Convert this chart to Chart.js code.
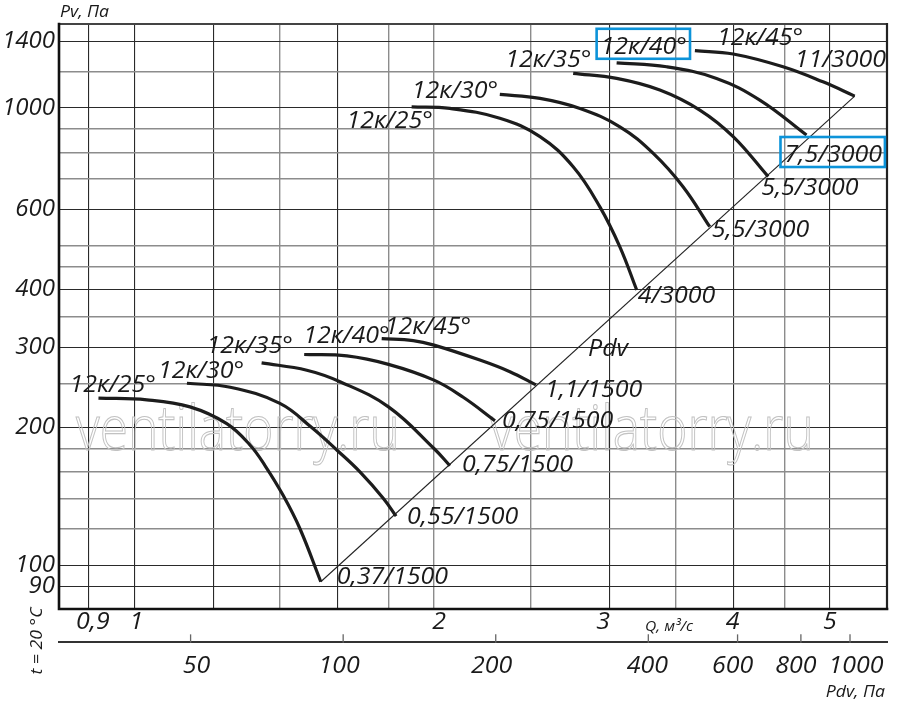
<!DOCTYPE html>
<html><head><meta charset="utf-8">
<script src="https://cdn.jsdelivr.net/npm/chart.js@4.4.1/dist/chart.umd.min.js"></script>
<style>html,body{margin:0;padding:0;background:#fff}#wrap{width:900px;height:709px}</style>
</head><body><div id="wrap"><canvas id="c" width="900" height="709"></canvas></div>
<script>
// ---------- DATA ----------
const qGrid = [0.9,1,1.2,1.4,1.6,1.8,2,2.5,3,3.5,4,4.5,5];
const qGridDark = [0.9,1,1.2,1.6,3,4,5];
const qTickLabels = [0.9,1,2,3,4,5];
const pGrid = [90,100,120,140,160,180,200,250,300,350,400,450,500,600,700,800,900,1000,1200,1400];
const pGridDark = [90,100,200,300,400,600,1000,1400];
const pTickLabels = [90,100,200,300,400,600,1000,1400];
const pdvTickLabels = [50,100,200,400,600,800,1000];

// 1500 rpm curves (Q m3/s, Pv Pa)
const q25L = [0.920,1.029,1.137,1.238,1.307,1.353,1.411,1.467,1.539];
const p25L = [232,230,222,204,183,165,142,120,92];
const q30L = [1.129,1.248,1.400,1.507,1.600,1.685,1.779,1.832];
const p30L = [250,245,226,200,178,160,140,128];
const q35L = [1.342,1.490,1.609,1.800,2.000,2.075];
const p35L = [277,267,252,222,180,165];
const q40L = [1.481,1.635,1.800,2.000,2.140,2.303];
const p40L = [289,287,275,254,233,207];
const q45L = [1.772,1.906,2.000,2.224,2.384,2.532];
const p45L = [313,310,303,281,265,248];
// 3000 rpm curves
const q25U = [1.899,2.075,2.329,2.556,2.760,2.936,3.075,3.197];
const p25U = [1006,998,950,866,744,608,497,400];
const q30U = [2.329,2.556,2.804,3.075,3.322,3.559,3.786];
const p30U = [1071,1050,998,910,796,673,550];
const q35U = [2.760,3.052,3.373,3.700,3.997,4.334];
const p35U = [1191,1161,1095,990,866,708];
const q40U = [3.052,3.426,3.846,4.251,4.736];
const p40U = [1256,1231,1161,1041,873];
const q45U = [3.658,3.997,4.486,4.920,5.295];
const p45U = [1335,1313,1231,1141,1062];
// dynamic pressure line
const qPdv = [1.539,5.295];
const pPdv = [92,1062];

const angleNames = ['12к/25°','12к/30°','12к/35°','12к/40°','12к/45°','12к/25°','12к/30°','12к/35°','12к/40°','12к/45°'];
const motorNames = ['0,37/1500','0,55/1500','0,75/1500','0,75/1500','1,1/1500','4/3000','5,5/3000','5,5/3000','7,5/3000','11/3000'];
const seriesQ = [q25L,q30L,q35L,q40L,q45L,q25U,q30U,q35U,q40U,q45U];
const seriesP = [p25L,p30L,p35L,p40L,p45L,p25U,p30U,p35U,p40U,p45U];

// ---------- LAYOUT (label offsets relative to curve start / end) ----------
const angleOff = [[-29,-6],[-29,-5],[-55,-10],[-1,-11],[3,-5],[-65,21],[-88,4],[-68,-6],[-16,-9],[22,-6]];
const motorOff = [[16,2],[11,8],[12,6],[7,7],[9,12],[1,13],[2,10],[-7,18],[-22,27],[-60,-29]];
const qLabelDx = [4,2,5,-6,-1,0];
const pdvLabelDx = [6,-4,-4,-1,-5,-5,6];
const boxedAngle = [8];
const boxedMotor = [8];
const FONT = '"Open Sans", "DejaVu Sans", sans-serif';
const SX = 1.04;

function txt(ctx, s, x, y, size, align, sx, color, style){
  ctx.save();
  ctx.font = (style||'italic') + ' ' + size + 'px ' + FONT;
  ctx.fillStyle = color || '#1a1a1a';
  ctx.textBaseline = 'alphabetic';
  const w = ctx.measureText(s).width * sx;
  const x0 = align === 'left' ? x : align === 'center' ? x - w/2 : x - w;
  ctx.translate(x0, y); ctx.scale(sx, 1); ctx.fillText(s, 0, 0);
  ctx.restore();
  return {left:x0, right:x0 + w};
}
const fmt = v => String(v).replace('.', ',');

const datasets = seriesQ.map((qs, i) => ({
  data: qs.map((q, j) => ({x:q, y:seriesP[i][j]})),
  borderColor:'#1c1c1c', borderWidth:3.2, pointRadius:0, fill:false,
  tension:0.4, borderCapStyle:'butt'
}));
datasets.push({
  data: qPdv.map((q, j) => ({x:q, y:pPdv[j]})),
  borderColor:'#222', borderWidth:1.1, pointRadius:0, fill:false, tension:0
});

const deco = {
  id:'deco',
  beforeDatasetsDraw(chart){
    const ctx = chart.ctx;
    ctx.save();
    ctx.strokeStyle = '#c2c2c2'; ctx.lineWidth = 1.1;
    ctx.font = '300 62px ' + FONT;
    [[76,450],[490,450]].forEach(([x,y]) => {
      ctx.save(); ctx.translate(x,y); ctx.scale(0.83,1); ctx.strokeText('ventilatorry.ru',0,0); ctx.restore();
    });
    ctx.restore();
  },
  afterDraw(chart){
    const ctx = chart.ctx, a = chart.chartArea, sc = chart.scales;
    const x = sc.x, x2 = sc.x2, y = sc.y;
    ctx.save();
    // frame
    ctx.lineCap = 'square';
    ctx.strokeStyle = '#444'; ctx.lineWidth = 2;
    ctx.beginPath(); ctx.moveTo(a.left, a.top); ctx.lineTo(a.right, a.top); ctx.stroke();
    ctx.strokeStyle = '#222'; ctx.lineWidth = 2.2;
    ctx.beginPath(); ctx.moveTo(a.right, a.top); ctx.lineTo(a.right, a.bottom); ctx.stroke();
    ctx.strokeStyle = '#111'; ctx.lineWidth = 2.6;
    ctx.beginPath(); ctx.moveTo(a.left, a.top); ctx.lineTo(a.left, a.bottom); ctx.lineTo(a.right, a.bottom); ctx.stroke();
    // second (Pdv) axis
    const yAx = 642;
    ctx.strokeStyle = '#333'; ctx.lineWidth = 2;
    ctx.beginPath(); ctx.moveTo(a.left, yAx); ctx.lineTo(a.right, yAx); ctx.stroke();
    ctx.strokeStyle = '#666'; ctx.lineWidth = 1.3;
    pdvTickLabels.forEach((v, i) => {
      const px = x2.getPixelForValue(v);
      ctx.beginPath(); ctx.moveTo(px, yAx - 7); ctx.lineTo(px, yAx); ctx.stroke();
      txt(ctx, fmt(v), px + pdvLabelDx[i], 673, 24, 'center', SX);
    });
    ctx.restore();
    // y labels
    pTickLabels.forEach(v => txt(ctx, fmt(v), 55, y.getPixelForValue(v) + 6.5, 24, 'right', 1.0));
    // q labels
    qTickLabels.forEach((v, i) => txt(ctx, fmt(v), x.getPixelForValue(v) + qLabelDx[i], 629, 24, 'center', SX));
    // titles
    txt(ctx, 'Pv, Па', 60, 17, 17, 'left', SX);
    txt(ctx, 'Q, м³/с', 645, 631, 15, 'left', SX);
    txt(ctx, 'Pdv, Па', 885, 697, 17, 'right', SX);
    ctx.save(); ctx.translate(36, 641); ctx.rotate(-Math.PI/2);
    txt(ctx, 't = 20 °C', 0, 6, 17, 'center', SX);
    ctx.restore();
    txt(ctx, 'Pdv', 588, 356, 24, 'left', SX);
    // curve labels
    const drawBox = (r, base) => {
      ctx.save(); ctx.strokeStyle = '#0c93d9'; ctx.lineWidth = 2.6;
      ctx.strokeRect(r.left - 4, base - 25, r.right - r.left + 7, 30);
      ctx.restore();
    };
    seriesQ.forEach((qs, i) => {
      const n = qs.length - 1;
      const sx0 = x.getPixelForValue(qs[0]), sy0 = y.getPixelForValue(seriesP[i][0]);
      const ex = x.getPixelForValue(qs[n]), ey = y.getPixelForValue(seriesP[i][n]);
      const b1 = sy0 + angleOff[i][1];
      const r1 = txt(ctx, angleNames[i], sx0 + angleOff[i][0], b1, 24, 'left', SX);
      if (boxedAngle.includes(i)) drawBox(r1, b1);
      const b2 = ey + motorOff[i][1];
      const r2 = txt(ctx, motorNames[i], ex + motorOff[i][0], b2, 24, 'left', SX);
      if (boxedMotor.includes(i)) drawBox(r2, b2);
    });
  }
};

new Chart(document.getElementById('c'), {
  type:'line',
  data:{datasets},
  plugins:[deco],
  options:{
    responsive:false, animation:false,
    layout:{padding:{left:59, right:13, top:24, bottom:100}},
    plugins:{legend:{display:false}, tooltip:{enabled:false}},
    scales:{
      x:{type:'logarithmic', position:'bottom', min:0.8397, max:5.706,
        afterBuildTicks: s => { s.ticks = qGrid.map(v => ({value:v})); },
        ticks:{display:false},
        grid:{drawTicks:false,
          color: c => qGridDark.includes(c.tick && c.tick.value) ? '#2a2a2a' : '#8c8c8c',
          lineWidth: c => qGridDark.includes(c.tick && c.tick.value) ? 1.1 : 1.4},
        border:{display:false}},
      x2:{type:'logarithmic', position:'bottom', min:27.5, max:1183, display:false},
      y:{type:'logarithmic', position:'left', min:80.2, max:1527,
        afterBuildTicks: s => { s.ticks = pGrid.map(v => ({value:v})); },
        ticks:{display:false},
        grid:{drawTicks:false,
          color: c => pGridDark.includes(c.tick && c.tick.value) ? '#2a2a2a' : '#8c8c8c',
          lineWidth: c => pGridDark.includes(c.tick && c.tick.value) ? 1.1 : 1.4},
        border:{display:false}}
    }
  }
});
</script></body></html>
